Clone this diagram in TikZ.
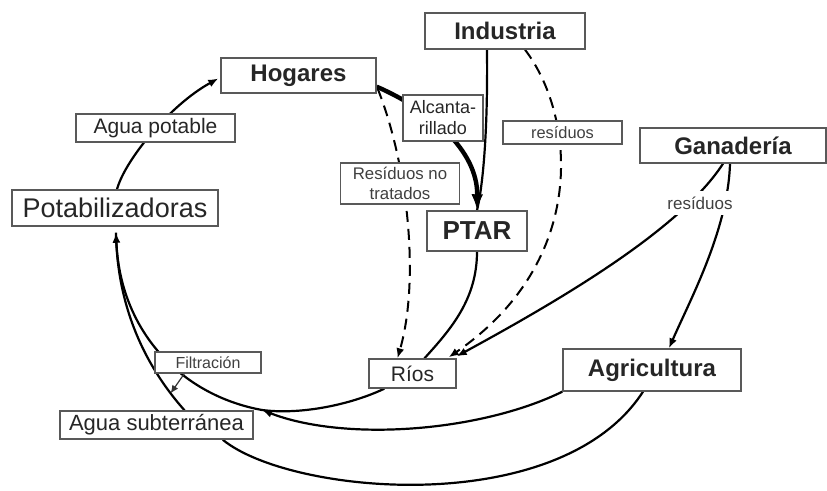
\documentclass[tikz,border=0pt]{standalone}
\usepackage{fontspec}
\setmainfont{Liberation Sans}
\usetikzlibrary{arrows.meta,backgrounds,calc}
\begin{document}
\begin{tikzpicture}[x=0.5pt,y=-0.5pt,
  box/.style={draw=black!65,line width=0.7pt,fill=white,inner sep=0pt,text=black!85},
  bigbold/.style={font=\bfseries\fontsize{12}{14}\selectfont},
  flow/.style={line width=1.1pt,black},
  thickflow/.style={line width=2.2pt,black},
  dflow/.style={line width=1pt,black,dash pattern=on 5.5pt off 3.5pt},
  tip/.style={-{Latex[length=5pt,width=4pt]}},
  bigtip/.style={-{Latex[length=8pt,width=6pt]}},
]
\useasboundingbox (0,0) rectangle (827,491);

% nodes
\node[box,bigbold,minimum width=77.5pt,minimum height=17.5pt] (hog) at (298.5,75.5) {Hogares};
\node[box,bigbold,minimum width=80pt,minimum height=18pt] (ind) at (505,31) {Industria};
\node[box,bigbold,minimum width=93pt,minimum height=17.5pt] (gan) at (733,145.5) {Ganadería};
\node[box,font=\fontsize{10.5}{12}\selectfont,minimum width=79.5pt,minimum height=14pt] (agp) at (155.5,128) {Agua potable};
\node[box,font=\fontsize{13.5}{16}\selectfont,minimum width=103pt,minimum height=18pt] (pot) at (115,208) {Potabilizadoras};
\node[box,font=\fontsize{9}{10.5}\selectfont,align=center,minimum width=40pt,minimum height=23pt] (alc) at (443,118) {Alcanta-\\rillado};
\node[box,font=\fontsize{8.4}{9.6}\selectfont,align=center,minimum width=59.5pt,minimum height=20.5pt,text=black!75] (rnt) at (400,183.5) {Resíduos no\\tratados};
\node[box,font=\fontsize{8.2}{10}\selectfont,minimum width=59.5pt,minimum height=11.5pt,text=black!75] (resi) at (562.5,132.5) {resíduos};
\node[box,font=\bfseries\fontsize{13}{15}\selectfont,minimum width=50pt,minimum height=20pt] (ptar) at (477,231) {PTAR};
\node[fill=white,inner xsep=1pt,inner ysep=3pt,font=\fontsize{8.5}{10}\selectfont,text=black!75] (resg) at (700,203) {resíduos};
\node[box,font=\fontsize{10.5}{12}\selectfont,minimum width=43.5pt,minimum height=14.5pt] (rios) at (412.5,373.5) {Ríos};
\node[box,bigbold,minimum width=89pt,minimum height=21pt] (agr) at (652,370) {Agricultura};
\node[box,font=\fontsize{8}{10}\selectfont,minimum width=53pt,minimum height=10.5pt,text=black!75] (fil) at (208,362.5) {Filtración};
\node[box,font=\fontsize{11}{13}\selectfont,minimum width=96.5pt,minimum height=14pt] (asub) at (156.5,425) {Agua subterránea};
\coordinate (merge) at (262,410);

\begin{pgfonlayer}{background}
% Potabilizadoras -> Hogares
\draw[flow,tip] ($(pot.north)+(2,0)$) .. controls (125,160) and (170,105) .. ($(hog.west)+(-2,3)$);
% Hogares -> PTAR (Alcantarillado)
\draw[thickflow,bigtip] ($(hog.south east)+(0,-7)$) .. controls (430,110) and (478,150) .. (ptar.north);
% Industria -> PTAR
\draw[flow] ($(ind.south)+(-18,0)$) .. controls (488,140) and (482,190) .. (ptar.north);
% Hogares -> Rios (dashed)
\draw[dflow,tip] ($(hog.south east)+(1,-5)$) .. controls (408,165) and (420,280) .. ($(rios.north)+(-15,0)$);
% Industria -> Rios (dashed)
\draw[dflow,tip] ($(ind.south)+(20,0)$) .. controls (575,115) and (590,260) .. ($(rios.north east)+(-8,-1)$);
% Ganaderia -> Rios
\draw[flow,tip] ($(gan.south)+(-10,0)$) .. controls (680,230) and (560,300) .. ($(rios.north east)+(0,-2)$);
% Ganaderia -> Agricultura
\draw[flow,tip] ($(gan.south)+(-3,0)$) .. controls (728,230) and (690,300) .. ($(agr.north)+(17,0)$);
% PTAR -> Rios
\draw[flow] (ptar.south) .. controls (477,300) and (450,330) .. ($(rios.north)+(12,0)$);
% Rios -> Potabilizadoras
\draw[flow,tip] ($(rios.south west)+(16,0)$) .. controls (350,405) and (300,415) .. (merge)
  .. controls (180,395) and (120,330) .. ($(pot.south)+(1,6)$);
% Agricultura -> merge
\draw[flow,tip] (agr.south west) .. controls (480,432) and (345,442) .. (merge);
% Agua subterranea -> Potabilizadoras
\draw[flow] ($(asub.north)+(28,0)$) .. controls (140,360) and (117,300) .. ($(pot.south)+(1,6)$) coordinate[pos=0.11] (fp);
% Filtracion leader
\draw[line width=0.6pt,black!80,-{Latex[length=4pt,width=3.5pt]}] ($(fil.south west)+(30,0)$) -- (fp);
% Agua subterranea <-> Agricultura
\draw[flow] ($(asub.south east)+(-31,0)$) .. controls (290,495) and (560,520) .. ($(agr.south)+(-9,0)$);
\end{pgfonlayer}
\end{tikzpicture}
\end{document}
